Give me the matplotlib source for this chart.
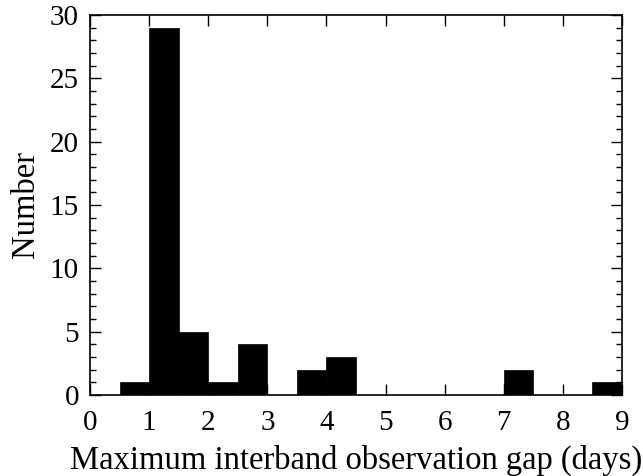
import matplotlib
matplotlib.use("Agg")
import matplotlib.pyplot as plt
import numpy as np
from matplotlib.ticker import MultipleLocator

# histogram bin edges and counts (bin width 0.5 days)
bin_edges = np.arange(0.0, 9.01, 0.5)
counts = [0, 1, 29, 5, 1, 4, 0, 2, 3, 0, 0, 0, 0, 0, 2, 0, 0, 1]

plt.rcParams['font.family'] = ['Liberation Serif', 'DejaVu Serif']

fig = plt.figure(figsize=(6.43, 4.76), dpi=100)
# axes box: x 90..622 px, y 15..395 px
ax = fig.add_axes([90 / 643, 1 - 395 / 476, 532 / 643, 380 / 476])

ax.bar(bin_edges[:-1], counts, width=0.5, align='edge', color='black',
       edgecolor='black', linewidth=0.5)

ax.set_xlim(0, 9)
ax.set_ylim(0, 30)
ax.xaxis.set_major_locator(MultipleLocator(1))
ax.yaxis.set_major_locator(MultipleLocator(5))
ax.yaxis.set_minor_locator(MultipleLocator(1))

ax.tick_params(which='both', direction='in', top=True, right=True,
               labelsize=21, width=1)
ax.tick_params(which='major', length=8)
ax.tick_params(which='minor', length=4)
ax.tick_params(axis='x', which='major', pad=11)
ax.tick_params(axis='y', which='major', pad=8)
for s in ax.spines.values():
    s.set_linewidth(1.2)

ax.set_xlabel('Maximum interband observation gap (days)', fontsize=23.5, labelpad=6)
ax.set_ylabel('Number', fontsize=23.5, labelpad=6)

fig.savefig('out.png', dpi=100)
